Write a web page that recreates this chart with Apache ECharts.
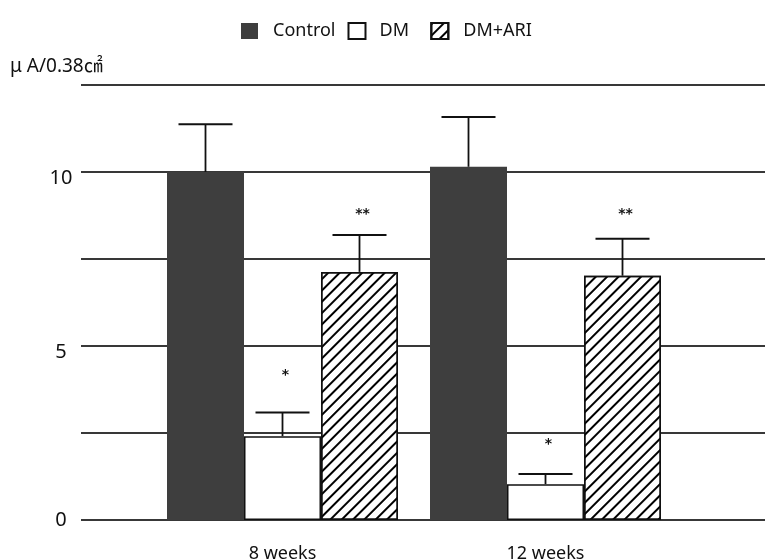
<!DOCTYPE html>
<html><head><meta charset="utf-8">
<script src="https://cdn.jsdelivr.net/npm/echarts@6/dist/echarts.min.js"></script>
<style>html,body{margin:0;padding:0;background:#fff}#c{width:765px;height:560px}</style>
</head><body><div id="c"></div>
<script>
const categories = ['8 weeks', '12 weeks'];
const seriesNames = ['Control', 'DM', 'DM+ARI'];
const controlMean = [10.0, 10.15];
const controlErrTop = [11.37, 11.58];
const dmMean = [2.41, 1.03];
const dmErrTop = [3.09, 1.32];
const ariMean = [7.13, 7.02];
const ariErrTop = [8.19, 8.08];
const dmMark = ['*', '*'];
const dmMarkY = [4.15, 2.18];
const ariMark = ['**', '**'];
const ariMarkY = [8.77, 8.77];
const yMin = 0, yMax = 12.5, yStep = 2.5;
const yTickLabels = {0: '0', 5: '5', 10: '10'};
const yAxisTitle = 'μ A/0.38㎠';

const FONT = '"Noto Sans", "DejaVu Sans", sans-serif';
const BAR_W = 77;

const chart = echarts.init(document.getElementById('c'), null, {renderer: 'canvas'});

const hatch = {
  symbol: 'rect', symbolSize: 1,
  dashArrayX: [1, 0], dashArrayY: [1.3, 5.7],
  rotation: -Math.PI / 4, color: '#000'
};

const errData = [];
const groups = [[controlMean, controlErrTop, null, null], [dmMean, dmErrTop, dmMark, dmMarkY], [ariMean, ariErrTop, ariMark, ariMarkY]];
groups.forEach((g, k) => {
  categories.forEach((c, i) => {
    errData.push([i, k, g[0][i], g[1][i], g[3] ? g[3][i] : -1, g[2] ? g[2][i] : '']);
  });
});

const option = {
  backgroundColor: '#fff',
  animation: false,
  legend: {
    top: 17, left: 236, itemWidth: 17, itemHeight: 16, itemGap: 12, icon: 'rect',
    textStyle: {fontFamily: FONT, fontSize: 18, color: '#111', padding: [0, 0, 0, 10]},
    formatter: name => (name === 'DM' ? name + '  ' : name),
    data: [
      {name: 'Control'},
      {name: 'DM', textStyle: {padding: [0, 0, 0, 9]}},
      {name: 'DM+ARI'}
    ]
  },
  graphic: [{
    type: 'text', left: 10, top: 57,
    style: {text: yAxisTitle, font: '19px "Noto Sans", "Noto Sans CJK JP", sans-serif', fill: '#111'}
  }],
  grid: [
    {left: 81, right: 0, top: 85, bottom: 40, outerBoundsMode: 'none', containLabel: false},
    {left: 151, right: 88, top: 85, bottom: 40, outerBoundsMode: 'none', containLabel: false}
  ],
  xAxis: [
    {gridIndex: 0, type: 'value', show: false, min: 0, max: 1},
    {gridIndex: 1, type: 'category', data: categories,
     axisLine: {show: false}, axisTick: {show: false},
     axisLabel: {fontFamily: FONT, fontSize: 18, color: '#111', margin: 25}}
  ],
  yAxis: [
    {gridIndex: 0, type: 'value', min: yMin, max: yMax, interval: yStep,
     axisLine: {show: false}, axisTick: {show: false},
     splitLine: {show: true, lineStyle: {color: '#383838', width: 2.2}},
     axisLabel: {align: 'center', margin: 20, fontFamily: FONT, fontSize: 20, color: '#111',
       formatter: v => (yTickLabels[v] === undefined ? '' : (v === 0 ? yTickLabels[v] : '{lo|' + yTickLabels[v] + '}')),
       rich: {lo: {padding: [13, 0, 0, 0], fontFamily: FONT, fontSize: 20, color: '#111'}}}},
    {gridIndex: 1, type: 'value', min: yMin, max: yMax, interval: yStep, show: false,
     splitLine: {show: false}}
  ],
  series: [
    {name: 'Control', type: 'bar', xAxisIndex: 1, yAxisIndex: 1, data: controlMean,
     barWidth: BAR_W, barGap: '0%', itemStyle: {color: '#3e3e3e'}},
    {name: 'DM', type: 'bar', xAxisIndex: 1, yAxisIndex: 1, data: dmMean,
     barWidth: BAR_W, barGap: '0%', itemStyle: {color: '#fff', borderColor: '#111', borderWidth: 1.5}},
    {name: 'DM+ARI', type: 'bar', xAxisIndex: 1, yAxisIndex: 1, data: ariMean,
     barWidth: BAR_W, barGap: '0%', itemStyle: {color: '#fff', borderColor: '#111', borderWidth: 1.5, decal: hatch}},
    {type: 'custom', xAxisIndex: 1, yAxisIndex: 1, data: errData, z: 5,
     renderItem: function (params, api) {
       const cat = api.value(0), k = api.value(1);
       const base = api.coord([cat, api.value(2)]);
       const top = api.coord([cat, api.value(3)]);
       const x = base[0] + (k - 1) * BAR_W;
       const children = [
         {type: 'line', shape: {x1: x, y1: base[1], x2: x, y2: top[1]}, style: {stroke: '#111', lineWidth: 1.8}},
         {type: 'line', shape: {x1: x - 27, y1: top[1], x2: x + 27, y2: top[1]}, style: {stroke: '#111', lineWidth: 2}}
       ];
       const markY = api.value(4);
       const txt = errData[params.dataIndex][5];
       if (txt) {
         const p = api.coord([cat, markY]);
         children.push({type: 'text', style: {text: txt, x: x + 3, y: p[1], align: 'center', verticalAlign: 'middle',
           font: 'bold 14px "DejaVu Sans", sans-serif', fill: '#111'}});
       }
       return {type: 'group', children: children};
     }}
  ]
};
chart.setOption(option);
</script></body></html>
